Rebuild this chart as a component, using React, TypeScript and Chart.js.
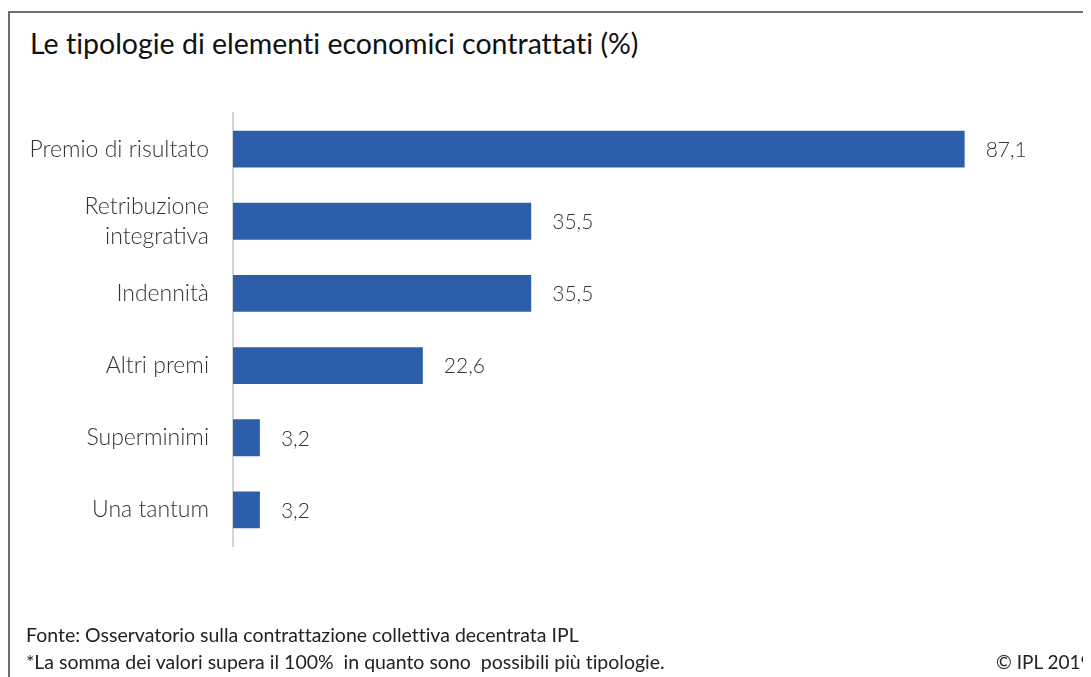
import React, { useEffect, useRef } from "react";
import { Chart, registerables } from "chart.js";

Chart.register(...registerables);

const categories: (string | string[])[] = [
  "Premio di risultato",
  ["Retribuzione", "integrativa"],
  "Indennità",
  "Altri premi",
  "Superminimi",
  "Una tantum",
];
const values: number[] = [87.1, 35.5, 35.5, 22.6, 3.2, 3.2];
const valueLabels: string[] = ["87,1", "35,5", "35,5", "22,6", "3,2", "3,2"];

const FONT = "Lato, 'Open Sans', sans-serif";

const valueLabelPlugin = {
  id: "valueLabels",
  afterDatasetsDraw(chart: any) {
    const ctx = chart.ctx;
    const meta = chart.getDatasetMeta(0);
    ctx.save();
    ctx.font = `300 21px ${FONT}`;
    ctx.fillStyle = "#333333";
    ctx.textAlign = "left";
    ctx.textBaseline = "middle";
    meta.data.forEach((bar: any, i: number) => {
      ctx.fillText(valueLabels[i], bar.x + 21, bar.y + 1);
    });
    ctx.restore();
  },
};

export default function App() {
  const ref = useRef<HTMLCanvasElement>(null);
  useEffect(() => {
    if (!ref.current) return;
    const chart = new Chart(ref.current, {
      type: "bar",
      data: {
        labels: categories,
        datasets: [
          {
            data: values,
            backgroundColor: "#2d5ea9",
            borderWidth: 0,
            barPercentage: 0.51,
            categoryPercentage: 1,
          },
        ],
      },
      options: {
        indexAxis: "y",
        animation: false,
        responsive: false,
        maintainAspectRatio: false,
        layout: { padding: { left: 0, right: 18, top: 105, bottom: 131 } },
        plugins: { legend: { display: false }, tooltip: { enabled: false } },
        scales: {
          x: { display: false, min: 0, max: 100 },
          y: {
            afterFit(scale: any) {
              scale.width = 225;
            },
            grid: { display: true, drawOnChartArea: false, drawTicks: false },
            border: { display: true, color: "#d4d4d4", width: 2 },
            ticks: {
              color: "#333333",
              padding: 24,
              font: { family: FONT, size: 23, weight: "300", lineHeight: 1.3 },
            },
          },
        },
      },
      plugins: [valueLabelPlugin],
    });
    return () => chart.destroy();
  }, []);

  return (
    <div style={{ position: "relative", width: 1083, height: 669, overflow: "hidden" }}>
      <div
        style={{
          position: "absolute",
          left: 0,
          top: 3,
          width: 1200,
          height: 800,
          borderTop: "2px solid #6e6e6e",
          borderLeft: "2px solid #6e6e6e",
        }}
      />
      <div
        style={{
          position: "absolute",
          left: 22,
          top: 18,
          fontFamily: FONT,
          fontSize: 28.5,
          fontWeight: 400,
          fontVariantLigatures: "none",
          color: "#111",
          whiteSpace: "nowrap",
        }}
      >
        Le tipologie di elementi economici contrattati (%)
      </div>
      <canvas ref={ref} width={1083} height={669} style={{ position: "absolute", left: 0, top: 0 }} />
      <div
        style={{
          position: "absolute",
          left: 18,
          top: 613,
          fontFamily: FONT,
          fontSize: 19.5,
          fontVariantLigatures: "none",
          lineHeight: "27px",
          color: "#222",
          whiteSpace: "pre",
        }}
      >
        {"Fonte: Osservatorio sulla contrattazione collettiva decentrata IPL\n*La somma dei valori supera il 100%  in quanto sono  possibili più tipologie."}
      </div>
      <div
        style={{
          position: "absolute",
          left: 988,
          top: 640,
          fontFamily: FONT,
          fontSize: 19,
          lineHeight: "27px",
          color: "#222",
          whiteSpace: "pre",
        }}
      >
        © IPL 2019
      </div>
    </div>
  );
}
